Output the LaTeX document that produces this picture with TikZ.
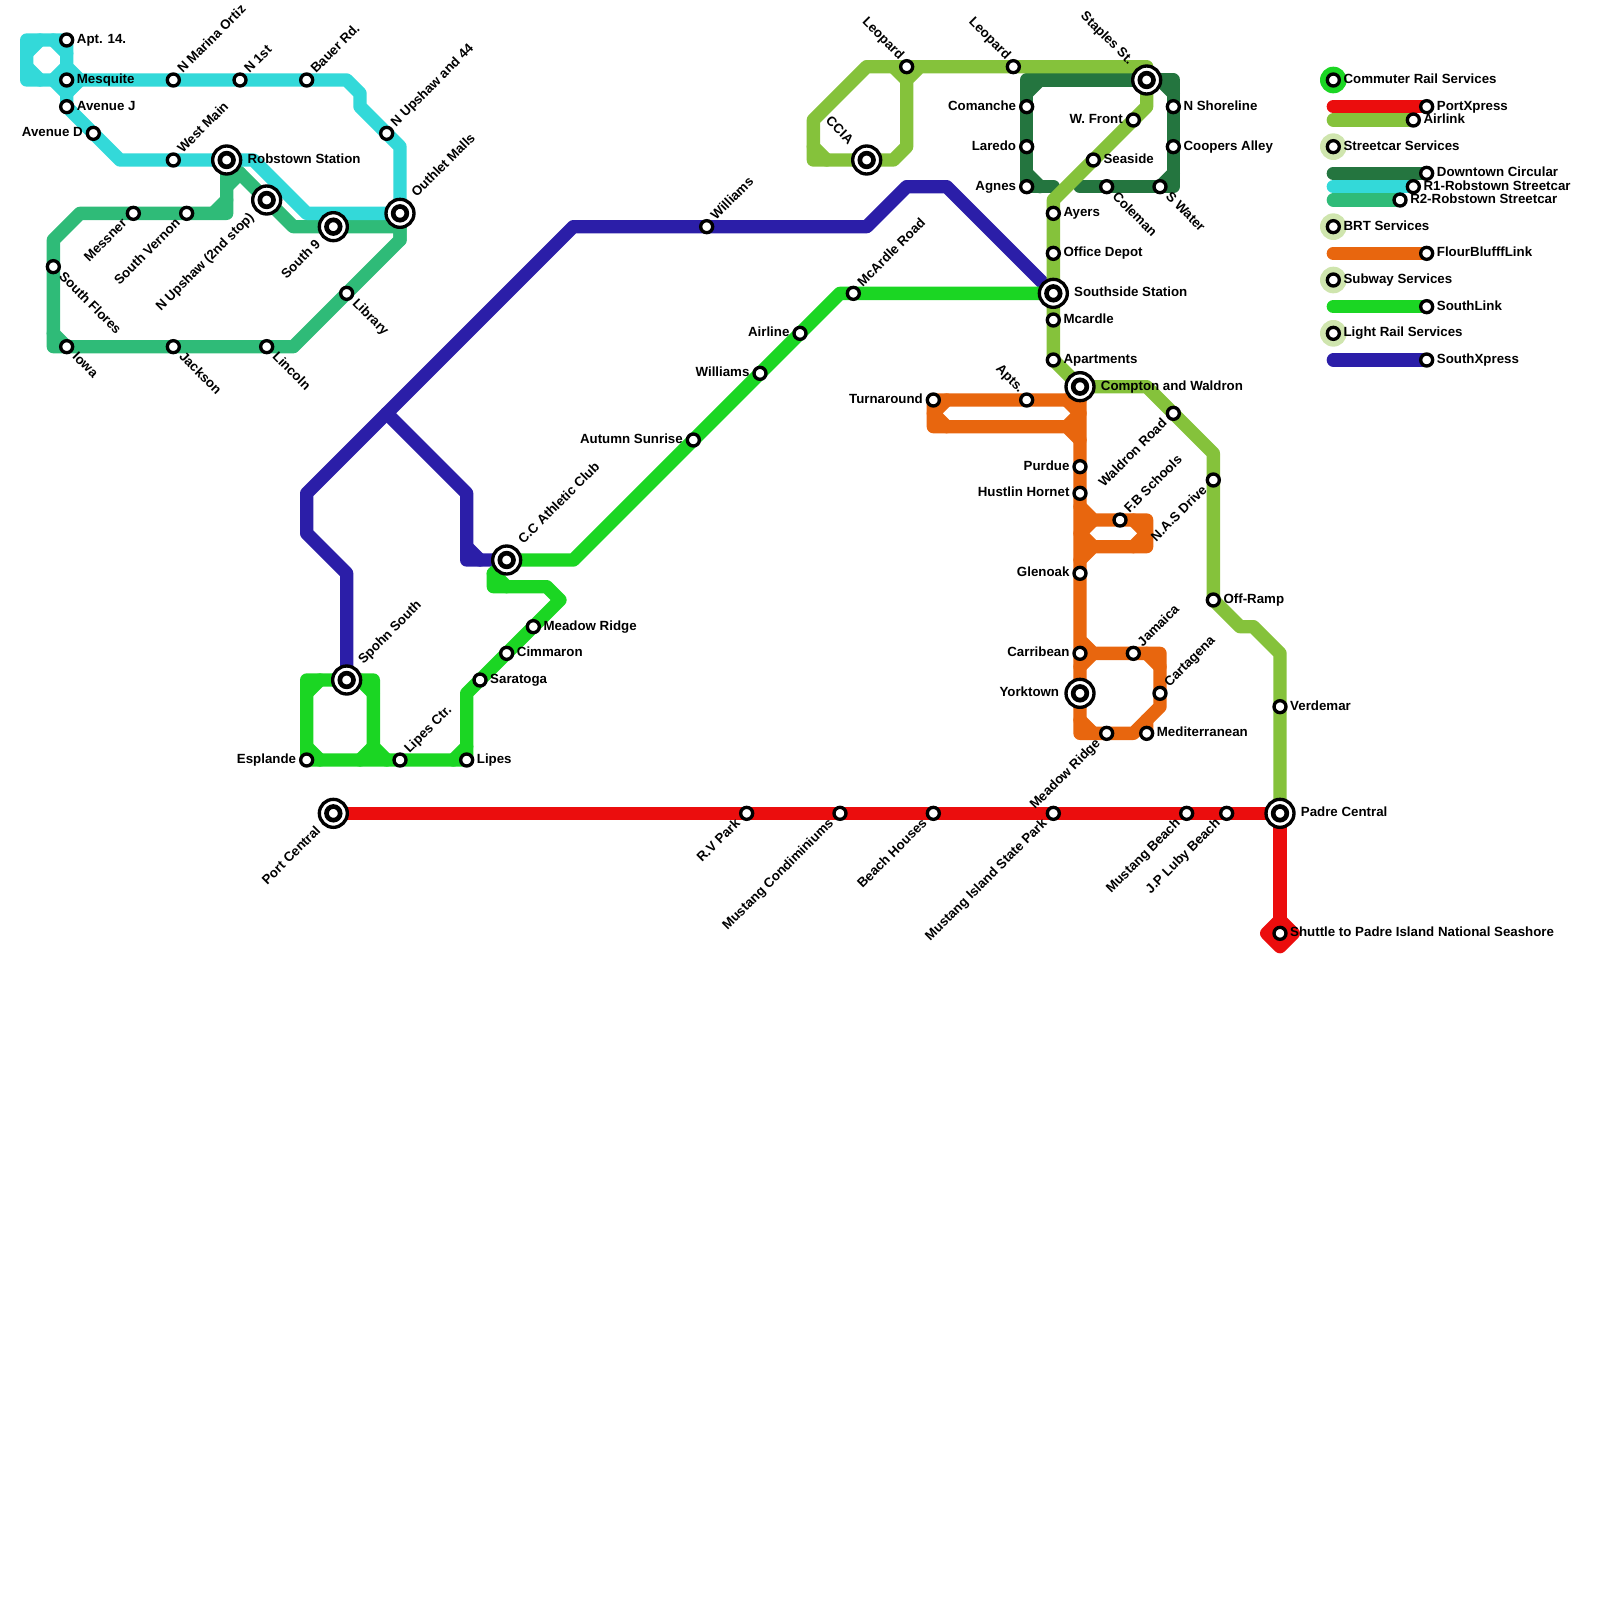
\documentclass[tikz,border=0pt]{standalone}
\usepackage{fontspec}
\setmainfont{Liberation Sans}
\usetikzlibrary{backgrounds}
\definecolor{mpred}{HTML}{EB0D0D}
\definecolor{mpair}{HTML}{85C23B}
\definecolor{mpdark}{HTML}{24753F}
\definecolor{mpcyan}{HTML}{33D9D9}
\definecolor{mprtwo}{HTML}{2FBB78}
\definecolor{mporange}{HTML}{E8660E}
\definecolor{mplink}{HTML}{1BD623}
\definecolor{mpblue}{HTML}{2B1EA8}
\definecolor{mppale}{HTML}{CFE5AE}
\tikzset{
  metro/.style={line width=4mm, line cap=round, line join=round},
  stopnode/.style={circle, draw=black, fill=white, line width=1mm, minimum size=3.6mm, inner sep=0pt},
  hubnode/.style={circle, draw=black, fill=white, line width=1mm, minimum size=8.4mm, inner sep=0pt,
    path picture={\draw[black, line width=1.4mm] (path picture bounding box.center) circle (2.05mm);}},
  txt/.style={font=\fontsize{11.35}{13}\selectfont\bfseries, inner sep=0pt},
  labe/.style={txt, xshift=3mm, yshift=-1mm, anchor=base west},
  labw/.style={txt, xshift=-3.1mm, yshift=-1mm, anchor=base east},
  labne/.style={txt, xshift=2.8mm, yshift=1.8mm, rotate=45, anchor=base west},
  labse/.style={txt, xshift=1.5mm, yshift=-3.2mm, rotate=-45, anchor=base west},
  labsw/.style={txt, xshift=-1.7mm, yshift=-3.2mm, rotate=45, anchor=base east},
  labnw/.style={txt, xshift=-2.3mm, yshift=2mm, rotate=-45, anchor=base east},
  hube/.style={txt, xshift=6.2mm, yshift=-1mm, anchor=base west},
  hubw/.style={txt, xshift=-6.2mm, yshift=-1mm, anchor=base east},
  hubne/.style={txt, xshift=5mm, yshift=4.6mm, rotate=45, anchor=base west},
  hubsw/.style={txt, xshift=-3.6mm, yshift=-5.4mm, rotate=45, anchor=base east},
  hubnw/.style={txt, xshift=-5.5mm, yshift=4.5mm, rotate=-45, anchor=base east},
}
\begin{document}
\begin{tikzpicture}[x=4mm, y=-4mm]
  \useasboundingbox (0,0) rectangle (120,120);
  % west streetcars
  \path (5,3) node[stopnode] (apt) {} node[labe] (aptt) {Apt. 14.};
  \path (5,6) node[stopnode] (mesq) {} node[labe] (mesqt) {Mesquite};
  \path (5,8) node[stopnode] (avej) {} node[labe] (avejt) {Avenue J};
  \path (7,10) node[stopnode] (aved) {} node[labw] (avedt) {Avenue D};
  \path (13,6) node[stopnode] (marina) {} node[labne] (marinat) {N Marina Ortiz};
  \path (18,6) node[stopnode] (nfirst) {} node[labne] (nfirstt) {N 1st};
  \path (23,6) node[stopnode] (bauer) {} node[labne] (bauert) {Bauer Rd.};
  \path (29,10) node[stopnode] (upshaw) {} node[labne] (upshawt) {N Upshaw and 44};
  \path (13,12) node[stopnode] (westmain) {} node[labne] (westmaint) {West Main};
  \path (17,12) node[hubnode] (robs) {} node[hube] (robst) {Robstown Station};
  \path (30,16) node[hubnode] (outlet) {} node[hubne] (outlett) {Outhlet Malls};
  \path (20,15) node[hubnode] (upshawb) {} node[hubsw] (upshawbt) {N Upshaw (2nd stop)};
  \path (25,17) node[hubnode] (southnine) {} node[hubsw] (southninet) {South 9};
  \path (10,16) node[stopnode] (messner) {} node[labsw] (messnert) {Messner};
  \path (14,16) node[stopnode] (vernon) {} node[labsw] (vernont) {South Vernon};
  \path (4,20) node[stopnode] (flores) {} node[labse] (florest) {South Flores};
  \path (5,26) node[stopnode] (iowa) {} node[labse] (iowat) {Iowa};
  \path (13,26) node[stopnode] (jackson) {} node[labse] (jacksont) {Jackson};
  \path (20,26) node[stopnode] (lincoln) {} node[labse] (lincolnt) {Lincoln};
  \path (26,22) node[stopnode] (library) {} node[labse] (libraryt) {Library};
  % south lines
  \path (53,17) node[stopnode] (williamsa) {} node[labne] (williamsat) {Williams};
  \path (64,22) node[stopnode] (mcroad) {} node[labne] (mcroadt) {McArdle Road};
  \path (60,25) node[stopnode] (airline) {} node[labw] (airlinet) {Airline};
  \path (57,28) node[stopnode] (williamsb) {} node[labw] (williamsbt) {Williams};
  \path (52,33) node[stopnode] (autumn) {} node[labw] (autumnt) {Autumn Sunrise};
  \path (38,42) node[hubnode] (ccclub) {} node[hubne] (ccclubt) {C.C Athletic Club};
  \path (40,47) node[stopnode] (meadow) {} node[labe] (meadowt) {Meadow Ridge};
  \path (38,49) node[stopnode] (cimmaron) {} node[labe] (cimmaront) {Cimmaron};
  \path (36,51) node[stopnode] (saratoga) {} node[labe] (saratogat) {Saratoga};
  \path (26,51) node[hubnode] (spohn) {} node[hubne] (spohnt) {Spohn South};
  \path (23,57) node[stopnode] (esplande) {} node[labw] (esplandet) {Esplande};
  \path (30,57) node[stopnode] (lipesctr) {} node[labne] (lipesctrt) {Lipes Ctr.};
  \path (35,57) node[stopnode] (lipes) {} node[labe] (lipest) {Lipes};
  % port line
  \path (25,61) node[hubnode] (port) {} node[hubsw] (portt) {Port Central};
  \path (56,61) node[stopnode] (rvpark) {} node[labsw] (rvparkt) {R.V Park};
  \path (63,61) node[stopnode] (condo) {} node[labsw] (condot) {Mustang Condiminiums};
  \path (70,61) node[stopnode] (beachh) {} node[labsw] (beachht) {Beach Houses};
  \path (79,61) node[stopnode] (island) {} node[labsw] (islandt) {Mustang Island State Park};
  \path (89,61) node[stopnode] (mustang) {} node[labsw] (mustangt) {Mustang Beach};
  \path (92,61) node[stopnode] (luby) {} node[labsw] (lubyt) {J.P Luby Beach};
  \path (96,61) node[hubnode] (padre) {} node[hube] (padret) {Padre Central};
  \path (96,70) node[stopnode] (shuttle) {} node[labe] (shuttlet) {Shuttle to Padre Island National Seashore};
  % airlink
  \path (96,53) node[stopnode] (verdemar) {} node[labe] (verdemart) {Verdemar};
  \path (91,45) node[stopnode] (offramp) {} node[labe] (offrampt) {Off-Ramp};
  \path (91,36) node[stopnode] (nas) {} node[labsw] (nast) {N.A.S Drive};
  \path (88,31) node[stopnode] (waldron) {} node[labsw] (waldront) {Waldron Road};
  \path (81,29) node[hubnode] (compton) {} node[hube] (comptont) {Compton and Waldron};
  \path (79,27) node[stopnode] (apart) {} node[labe] (apartt) {Apartments};
  \path (79,24) node[stopnode] (mcardle) {} node[labe] (mcardlet) {Mcardle};
  \path (79,22) node[hubnode] (southside) {} node[hube] (southsidet) {Southside Station};
  \path (79,19) node[stopnode] (depot) {} node[labe] (depott) {Office Depot};
  \path (79,16) node[stopnode] (ayers) {} node[labe] (ayerst) {Ayers};
  \path (82,12) node[stopnode] (seaside) {} node[labe] (seasidet) {Seaside};
  \path (85,9) node[stopnode] (wfront) {} node[labw] (wfrontt) {W. Front};
  \path (86,6) node[hubnode] (staples) {} node[hubnw] (staplest) {Staples St.};
  \path (68,5) node[stopnode] (leoa) {} node[labnw] (leoat) {Leopard};
  \path (76,5) node[stopnode] (leob) {} node[labnw] (leobt) {Leopard};
  \path (65,12) node[hubnode] (ccia) {} node[hubnw] (cciat) {CCIA};
  % downtown
  \path (77,8) node[stopnode] (comanche) {} node[labw] (comanchet) {Comanche};
  \path (77,11) node[stopnode] (laredo) {} node[labw] (laredot) {Laredo};
  \path (77,14) node[stopnode] (agnes) {} node[labw] (agnest) {Agnes};
  \path (88,8) node[stopnode] (shoreline) {} node[labe] (shorelinet) {N Shoreline};
  \path (88,11) node[stopnode] (coopers) {} node[labe] (cooperst) {Coopers Alley};
  \path (83,14) node[stopnode] (coleman) {} node[labse] (colemant) {Coleman};
  \path (87,14) node[stopnode] (swater) {} node[labse] (swatert) {S Water};
  % flour bluff
  \path (70,30) node[stopnode] (turn) {} node[labw] (turnt) {Turnaround};
  \path (77,30) node[stopnode] (apts) {} node[labnw] (aptst) {Apts.};
  \path (81,35) node[stopnode] (purdue) {} node[labw] (purduet) {Purdue};
  \path (81,37) node[stopnode] (hornet) {} node[labw] (hornett) {Hustlin Hornet};
  \path (84,39) node[stopnode] (fbschools) {} node[labne] (fbschoolst) {F.B Schools};
  \path (81,43) node[stopnode] (glenoak) {} node[labw] (glenoakt) {Glenoak};
  \path (81,49) node[stopnode] (carribean) {} node[labw] (carribeant) {Carribean};
  \path (85,49) node[stopnode] (jamaica) {} node[labne] (jamaicat) {Jamaica};
  \path (87,52) node[stopnode] (cartagena) {} node[labne] (cartagenat) {Cartagena};
  \path (81,52) node[hubnode] (yorktown) {} node[hubw] (yorktownt) {Yorktown};
  \path (86,55) node[stopnode] (medit) {} node[labe] (meditt) {Mediterranean};
  \path (83,55) node[stopnode] (meadowb) {} node[labsw] (meadowbt) {Meadow Ridge};
  % legend
  \path (100,6) node[stopnode] (lgrail) {} node[labe] (lgrailt) {Commuter Rail Services};
  \path (107,8) node[stopnode] (lgport) {} node[labe] (lgportt) {PortXpress};
  \path (106,9) node[stopnode] (lgair) {} node[labe] (lgairt) {Airlink};
  \path (100,11) node[stopnode] (lgcar) {} node[labe] (lgcart) {Streetcar Services};
  \path (107,13) node[stopnode] (lgdown) {} node[labe] (lgdownt) {Downtown Circular};
  \path (106,14) node[stopnode] (lgrone) {} node[labe] (lgronet) {R1-Robstown Streetcar};
  \path (105,15) node[stopnode] (lgrtwo) {} node[labe] (lgrtwot) {R2-Robstown Streetcar};
  \path (100,17) node[stopnode] (lgbrt) {} node[labe] (lgbrtt) {BRT Services};
  \path (107,19) node[stopnode] (lgflour) {} node[labe] (lgflourt) {FlourBlufffLink};
  \path (100,21) node[stopnode] (lgsub) {} node[labe] (lgsubt) {Subway Services};
  \path (107,23) node[stopnode] (lglink) {} node[labe] (lglinkt) {SouthLink};
  \path (100,25) node[stopnode] (lglight) {} node[labe] (lglightt) {Light Rail Services};
  \path (107,27) node[stopnode] (lgxpress) {} node[labe] (lgxpresst) {SouthXpress};
  \begin{scope}[on background layer]
    % legend blobs and bars
    \fill[mplink] (lgrail.center) circle (4mm);
    \fill[mppale] (lgcar.center) circle (4mm);
    \fill[mppale] (lgbrt.center) circle (4mm);
    \fill[mppale] (lgsub.center) circle (4mm);
    \fill[mppale] (lglight.center) circle (4mm);
    \draw[metro, mpred] (100,8) -- (lgport.center);
    \draw[metro, mpair] (100,9) -- (lgair.center);
    \draw[metro, mpdark] (100,13) -- (lgdown.center);
    \draw[metro, mpcyan] (100,14) -- (lgrone.center);
    \draw[metro, mprtwo] (100,15) -- (lgrtwo.center);
    \draw[metro, mporange] (100,19) -- (lgflour.center);
    \draw[metro, mplink] (100,23) -- (lglink.center);
    \draw[metro, mpblue] (100,27) -- (lgxpress.center);
    % R2
    \draw[metro, mprtwo] (robs.center) -- (17,16) -- (6,16) -- (4,18) -- (4,26) -- (22,26) -- (30,18) -- (outlet.center);
    \draw[metro, mprtwo] (robs.center) -- (22,17) -- (30,17) -- (30,18);
    \draw[metro, mprtwo] (17,15) -- (16,16) (17,14) -- (18,13) (4,25) -- (iowa.center);
    % R1
    \draw[metro, mpcyan] (apt.center) -- (2,3) -- (2,6) -- (mesq.center) -- (26,6) -- (27,7) -- (27,8) -- (30,11) -- (outlet.center);
    \draw[metro, mpcyan] (apt.center) -- (5,5) -- (6,6) -- (5,7) -- (4,6);
    \draw[metro, mpcyan] (5,7) -- (avej.center) -- (9,12) -- (robs.center) -- (19,12) -- (23,16) -- (outlet.center);
    \draw[metro, mpcyan] (2,4) -- (3,3) (2,5) -- (3,6) (4,3) -- (5,4) (4,6) -- (5,5);
    % downtown circular
    \draw[metro, mpdark] (79,14) -- (agnes.center) -- (77,6) -- (88,6) -- (88,14) -- (81,14);
    \draw[metro, mpdark] (77,7) -- (78,6) (77,13) -- (78,14) (87,6) -- (88,7) (88,13) -- (87,14);
    % south xpress
    \draw[metro, mpblue] (southside.center) -- (71,14) -- (68,14) -- (65,17) -- (43,17) -- (23,37) -- (23,40) -- (26,43) -- (spohn.center);
    \draw[metro, mpblue] (29,31) -- (35,37) -- (35,42) -- (ccclub.center);
    \draw[metro, mpblue] (35,41) -- (36,42);
    % south link
    \draw[metro, mplink] (southside.center) -- (63,22) -- (43,42) -- (ccclub.center) -- (37,43) -- (37,44) -- (41,44) -- (42,45) -- (35,52) -- (lipes.center) -- (esplande.center) -- (23,51) -- (28,51) -- (28,57);
    \draw[metro, mplink] (37,43) -- (38,44) (34,57) -- (35,56) (28,56) -- (29,57) (28,56) -- (27,57);
    \draw[metro, mplink] (23,52) -- (24,51) (27,51) -- (28,52) (23,56) -- (24,57);
    % airlink
    \draw[metro, mpair] (padre.center) -- (96,49) -- (94,47) -- (93,47) -- (91,45) -- (91,34) -- (86,29) -- (compton.center) -- (apart.center) -- (79,15) -- (86,8) -- (86,5) -- (65,5) -- (61,9) -- (61,12) -- (67,12) -- (68,11) -- (68,6) -- (69,5);
    \draw[metro, mpair] (61,11) -- (62,12) (67,5) -- (68,6);
    % flour bluff
    \draw[metro, mporange] (81,30) -- (turn.center) -- (70,32) -- (80,32) -- (81,33);
    \draw[metro, mporange] (compton.center) -- (81,55) -- (85,55) -- (87,53) -- (87,49) -- (82,49) -- (81,48);
    \draw[metro, mporange] (70,31) -- (71,30) (70,31) -- (71,32) (80,30) -- (81,31) -- (80,32);
    \draw[metro, mporange] (81,38) -- (82,39) -- (86,39) -- (86,41) -- (82,41) -- (81,42);
    \draw[metro, mporange] (82,39) -- (81,40) -- (82,41) (85,39) -- (86,40) -- (85,41);
    \draw[metro, mporange] (86,49) -- (87,50) (81,50) -- (82,49) (81,54) -- (82,55) (86,54) -- (medit.center);
    % port xpress
    \draw[metro, mpred] (port.center) -- (padre.center) -- (shuttle.center);
    \draw[metro, mpred, fill=mpred] (96,69) -- (97,70) -- (96,71) -- (95,70) -- cycle;
  \end{scope}
\end{tikzpicture}
\end{document}
